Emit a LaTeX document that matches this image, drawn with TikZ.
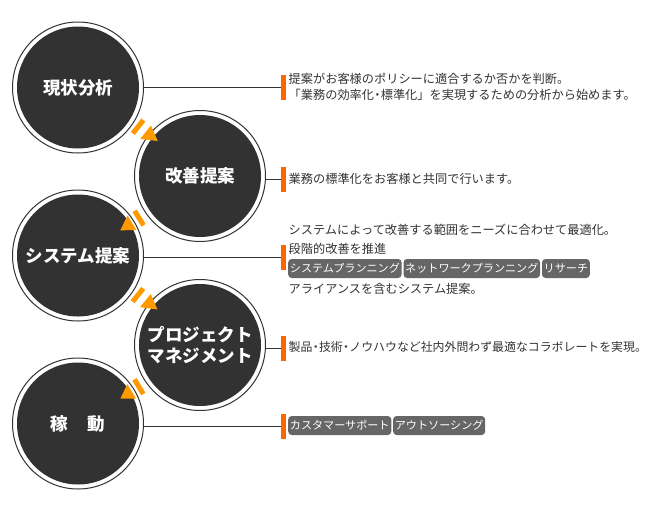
\documentclass[tikz,border=0pt]{standalone}
\usepackage{fontspec}
\setmainfont{Noto Sans CJK JP}
\usetikzlibrary{calc}
\definecolor{darkfill}{HTML}{323232}
\definecolor{ringline}{HTML}{333333}
\definecolor{bodytext}{HTML}{333333}
\definecolor{tagfill}{HTML}{666666}
\definecolor{sideorange}{HTML}{FF6600}
\definecolor{floworange}{HTML}{FF9900}
\newcommand\nakaguro{\makebox[0.55em][c]{・}}
% #1 from, #2 to, #3 bar distance, #4 base distance, #5 tip distance, #6 side offset
\newcommand\phasearrow[6]{%
  \coordinate (#1#2bar) at ($(#1)!#3!(#2)!#6!90:(#2)$);
  \coordinate (#1#2base) at ($(#1)!#4!(#2)!#6!90:(#2)$);
  \coordinate (#1#2tip) at ($(#1)!#5!(#2)!#6!90:(#2)$);
  \draw[floworange, line width=5pt] ($(#1#2bar)!8.5pt!90:(#2)$) -- ($(#1#2bar)!8.5pt!-90:(#2)$);
  \fill[floworange] ($(#1#2base)!8.5pt!90:(#2)$) -- ($(#1#2base)!8.5pt!-90:(#2)$) -- (#1#2tip) -- cycle;
}
\begin{document}
\begin{tikzpicture}[x=1pt, y=-1pt,
  phase/.style={circle, draw=ringline, line width=1pt, fill=white, minimum size=131pt, inner sep=0pt,
     text=white, align=center, font=\fontsize{17.5}{20.5}\selectfont\bfseries,
     path picture={\fill[darkfill] (path picture bounding box.center) circle (61pt);}},
  barmark/.style={rectangle, fill=sideorange, minimum width=5pt, minimum height=25pt, inner sep=0pt, anchor=west},
  link/.style={draw=ringline, line width=0.8pt},
  bodyline/.style={anchor=west, inner sep=0pt, text=bodytext, font=\fontsize{12.2}{14}\selectfont,
     text height=10.6pt, text depth=1.6pt},
  tag/.style={anchor=west, fill=tagfill, rounded corners=3.5pt, text=white, font=\fontsize{11.1}{13}\selectfont,
     inner xsep=1.7pt, inner ysep=0pt, minimum height=19pt, text height=9.8pt, text depth=1.4pt}
]
\fill[white] (0,0) rectangle (650,520);
\useasboundingbox (0,0) rectangle (650,520);

% phase circles
\node[phase] (c1) at (78,87.5) {現状分析};
\node[phase] (c2) at (200,176) {改善提案};
\node[phase] (c3) at (78,255.5) {システム提案};
\node[phase] (c4) at (200,345) {プロジェクト\\マネジメント};
\node[phase] (c5) at (78,423.5) {稼\hspace{1.1em}動};

% flow arrows
\phasearrow{c1}{c2}{71.7pt}{81pt}{96pt}{3.5pt}
\phasearrow{c2}{c3}{74pt}{82.5pt}{96.5pt}{2pt}
\phasearrow{c3}{c4}{71.7pt}{81pt}{96pt}{3.5pt}
\phasearrow{c4}{c5}{74pt}{82.5pt}{96pt}{2pt}

% side markers
\node[barmark] (b1) at (281,87) {};
\node[barmark] (b2) at (281,179.5) {};
\node[barmark] (b3) at (281,257.5) {};
\node[barmark] (b4) at (281,348.5) {};
\node[barmark] (b5) at (281,426.5) {};

% connectors
\draw[link] (c1.east |- b1.west) -- (b1.west);
\draw[link] (c2.east |- b2.west) -- (b2.west);
\draw[link] (c3.east |- b3.west) -- (b3.west);
\draw[link] (c4.east |- b4.west) -- (b4.west);
\draw[link] (c5.east |- b5.west) -- (b5.west);

% descriptions
\node[bodyline] (t1a) at (288.5,79) {提案がお客様のポリシーに適合するか否かを判断。};
\node[bodyline] (t1b) at (288.5,95) {「業務の効率化\nakaguro 標準化」を実現するための分析から始めます。};
\node[bodyline] (t2) at (288.5,179) {業務の標準化をお客様と共同で行います。};
\node[bodyline] (t3a) at (288.5,230) {システムによって改善する範囲をニーズに合わせて最適化。};
\node[bodyline] (t3b) at (288.5,249) {段階的改善を推進};
\node[tag] (g1) at (288,268.5) {システムプランニング};
\node[tag] (g2) at ([xshift=1.5pt]g1.east) {ネットワークプランニング};
\node[tag] (g3) at ([xshift=1.5pt]g2.east) {リサーチ};
\node[bodyline] (t3c) at (288.5,289) {アライアンスを含むシステム提案。};
\node[bodyline, font=\fontsize{11.9}{14}\selectfont] (t4) at (288.5,347) {製品\nakaguro 技術\nakaguro ノウハウなど社内外問わず最適なコラボレートを実現。};
\node[tag] (g4) at (288,425.5) {カスタマーサポート};
\node[tag] (g5) at ([xshift=1.5pt]g4.east) {アウトソーシング};
\end{tikzpicture}
\end{document}
